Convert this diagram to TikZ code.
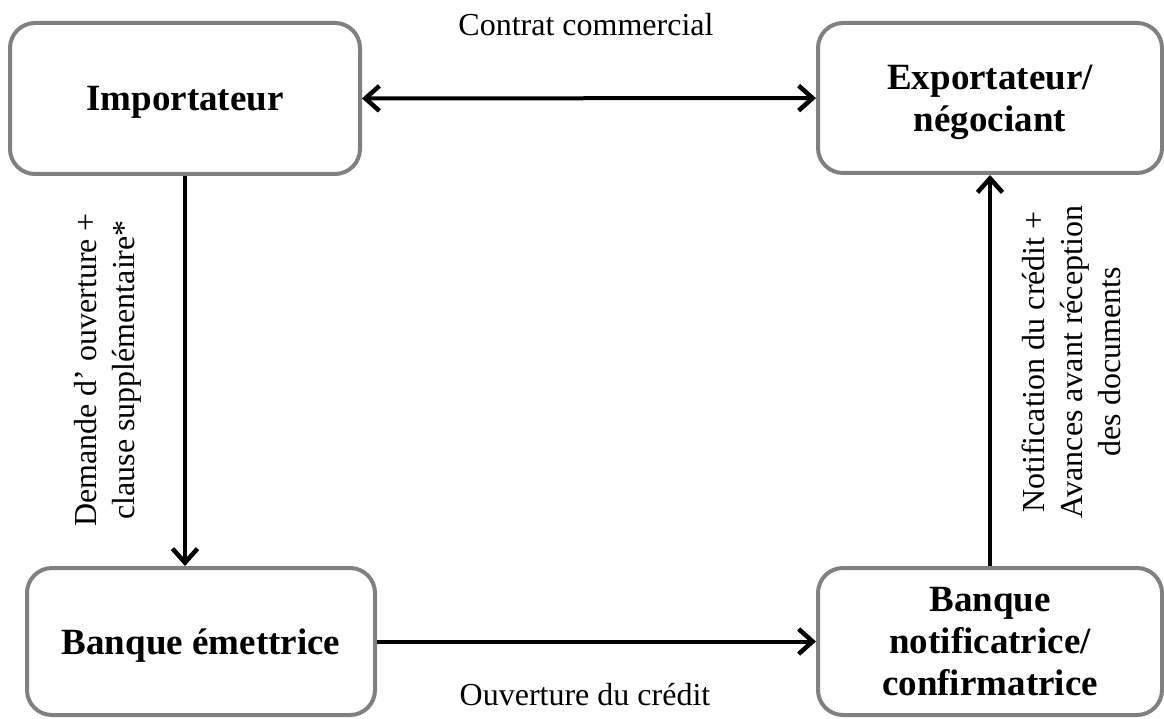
\documentclass[tikz,border=0pt]{standalone}
\usepackage{fontspec}
\setmainfont{Liberation Serif}
\usetikzlibrary{arrows.meta}
\tikzset{
  acteur/.style={draw=black!50, line width=4pt, rounded corners=25pt, align=center, text depth=0pt,
    font=\fontsize{37}{42}\selectfont\bfseries},
  fleche/.style={line width=4pt, -{Straight Barb[length=14pt,width=25pt,line width=4.5pt]}},
  fleches/.style={line width=4pt, {Straight Barb[length=14pt,width=25pt,line width=4.5pt]}-{Straight Barb[length=14pt,width=25pt,line width=4.5pt]}},
  legende/.style={align=center, font=\fontsize{32}{38}\selectfont}
}
\begin{document}
\begin{tikzpicture}[x=1pt, y=-1pt]
        \useasboundingbox (0, 0) rectangle (1164, 719);
        \node[acteur, minimum width=350, minimum height=151] (imp) at (185, 98.5) {Importateur};
        \node[acteur, minimum width=344, minimum height=150] (exp) at (990, 98) {Exportateur/\\négociant};
        \node[acteur, minimum width=348, minimum height=147] (bem) at (201, 641.5) {Banque émettrice};
        \node[acteur, minimum width=344, minimum height=147] (bnot) at (990, 641.5) {Banque\\notificatrice/\\confirmatrice};
        \node[legende] (contrat) at (586, 25) {Contrat commercial};
        \node[legende] (ouverture) at (585, 695) {Ouverture du crédit};
        \node[legende, rotate=90] (demande) at (108, 370) {Demande d’ ouverture +\\clause supplémentaire*};
        \node[legende, rotate=90] (notif) at (1071, 362) {Notification du crédit +\\Avances avant réception\\des documents\hspace{90pt}};
        \draw[fleches] (imp) -- (exp);
        \draw[fleche] (bem) -- (bnot);
        \draw[fleche] (imp.south) -- (imp.south |- bem.north);
        \draw[fleche] (bnot) -- (exp);
    \end{tikzpicture}
\end{document}
